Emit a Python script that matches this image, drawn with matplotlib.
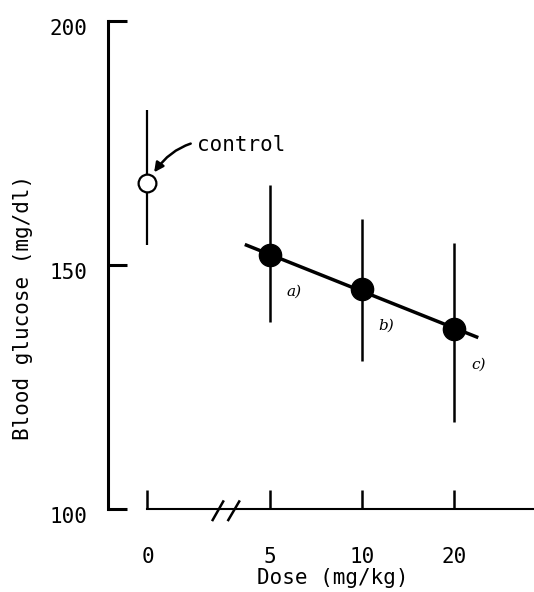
import numpy as np
import matplotlib.pyplot as plt
from matplotlib.transforms import ScaledTranslation

plt.rcParams['font.family'] = ['DejaVu Sans Mono']

# dose groups, placed on a broken axis (0 is the control)
doses = ['0', '5', '10', '20']
pos = np.array([0, 1.32, 2.32, 3.32])
means = np.array([166.8, 152.0, 145.0, 136.9])
upper = np.array([181.7, 166.4, 159.4, 154.6])
lower = np.array([154.0, 138.3, 130.3, 117.9])
marks = ['a)', 'b)', 'c)']
yticks = [100, 150, 200]

fig = plt.figure(figsize=(5.34, 5.92), dpi=100)
ax = fig.add_axes([0.2022, 0.1397, 0.7978, 0.8253])
ax.set_xlim(-0.427, 4.18)
ax.set_ylim(100, 200)

yerr = np.vstack([means - lower, upper - means])

# control: open circle
ax.errorbar(pos[:1], means[:1], yerr=yerr[:, :1], fmt='o', color='k', ms=12.8,
            mfc='white', mew=1.6, elinewidth=1.6, capsize=0, zorder=3)

# treated groups: filled circles + regression line
ax.errorbar(pos[1:], means[1:], yerr=yerr[:, 1:], fmt='o', color='k', ms=16,
            elinewidth=1.8, capsize=0, zorder=3)
k, b = np.polyfit(pos[1:], means[1:], 1)
xl = np.array([1.07, 3.56])
ax.plot(xl, k * xl + b, color='k', lw=2.5, zorder=2)

for x, y, m in zip(pos[1:], means[1:], marks):
    ax.annotate(m, (x, y), xytext=(12, -26), textcoords='offset points',
                ha='left', va='center', fontsize=11, family='DejaVu Serif',
                style='italic')

ax.annotate('control', (pos[0], means[0]), xytext=(36, 27.5),
            textcoords='offset points', ha='left', va='center', fontsize=15,
            arrowprops=dict(arrowstyle='-|>', color='k', lw=1.8,
                            mutation_scale=14, shrinkA=3, shrinkB=9,
                            connectionstyle='arc3,rad=0.4'))

# axes styling
ax.spines['top'].set_visible(False)
ax.spines['right'].set_visible(False)
ax.spines['left'].set_linewidth(2.2)
ax.spines['bottom'].set_linewidth(1.5)
ax.spines['bottom'].set_bounds(pos[0], 4.18)

ax.set_yticks(yticks)
ax.tick_params(axis='y', direction='in', length=13.5, width=2.2, pad=15,
               labelsize=15)
ax.set_xticks(pos)
ax.set_xticklabels(doses)
ax.tick_params(axis='x', direction='in', length=14, width=1.8, pad=27,
               labelsize=15)
off = ScaledTranslation(0, -0.06, fig.dpi_scale_trans)
for lab in ax.get_yticklabels():
    lab.set_transform(lab.get_transform() + off)

# axis break marks
ax.plot([0.705, 0.819], [97.8, 101.6], color='k', lw=1.8, clip_on=False)
ax.plot([0.874, 0.992], [97.8, 101.6], color='k', lw=1.8, clip_on=False)

fig.text(0.6236, 0.024, 'Dose (mg/kg)', ha='center', va='center', fontsize=15)
fig.text(0.043, 0.48, 'Blood glucose (mg/dl)', ha='center', va='center',
         rotation=90, fontsize=15)

plt.savefig('out.png', dpi=100)
